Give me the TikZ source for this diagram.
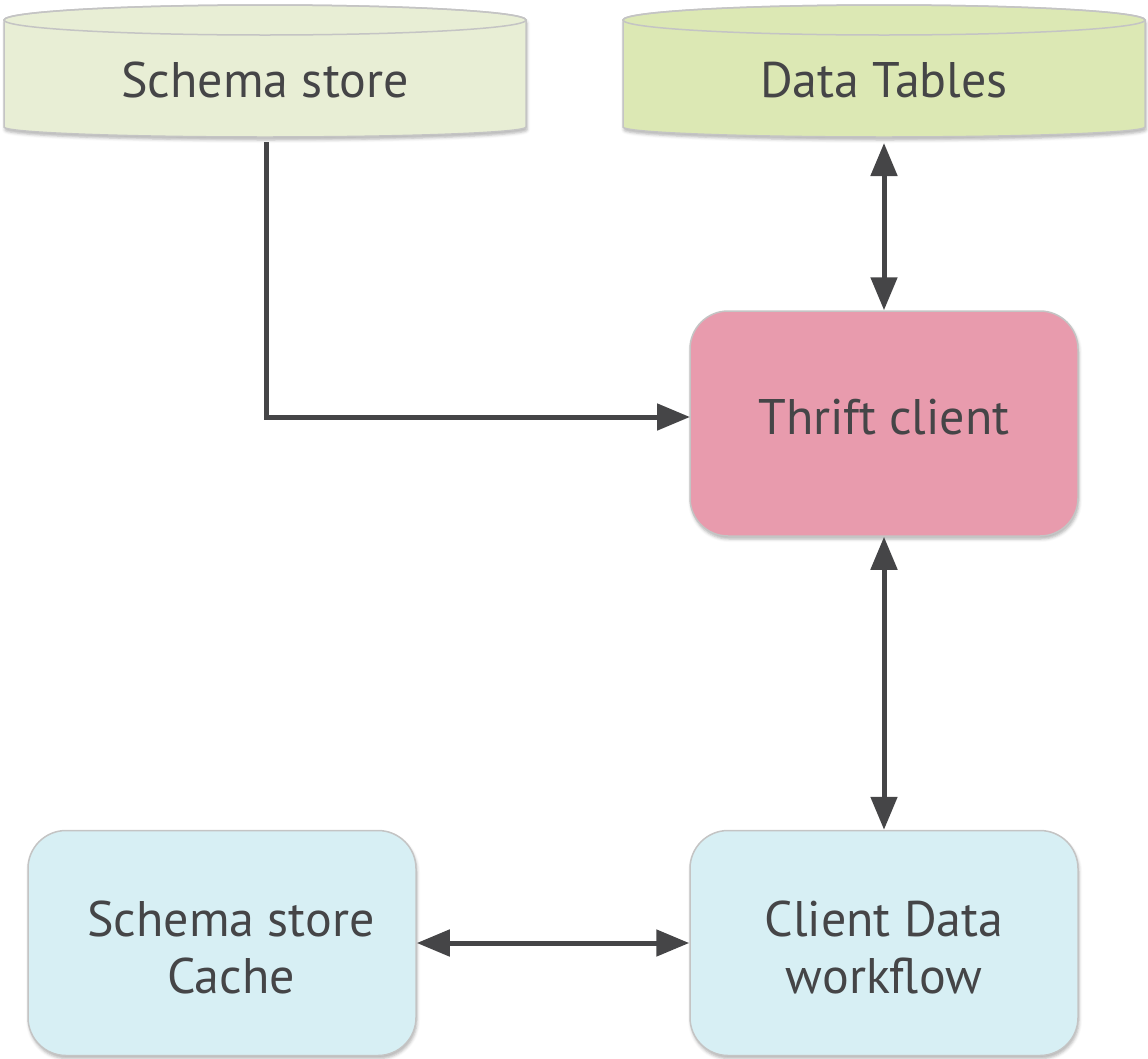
\documentclass[tikz,border=0pt]{standalone}
\usepackage{fontspec}
\setmainfont{PT Sans}
\usetikzlibrary{arrows.meta,shadows.blur}
\definecolor{txt}{HTML}{454547}
\definecolor{edge}{HTML}{C4C4C4}
\definecolor{dbA}{HTML}{E8EED5}
\definecolor{dbB}{HTML}{DCE8B4}
\definecolor{thr}{HTML}{E89BAD}
\definecolor{blu}{HTML}{D7EFF4}
\tikzset{
  lbl/.style={text=txt, font=\fontsize{50}{57}\selectfont, align=center, inner sep=0pt},
  box/.style={lbl, draw=edge, line width=1.5pt, rounded corners=38pt,
    minimum width=388pt, minimum height=225pt,
    blur shadow={shadow xshift=1pt, shadow yshift=-3pt, shadow blur radius=3pt, shadow opacity=30}},
  cyl/.style={draw=edge, line width=1.5pt,
    blur shadow={shadow xshift=1pt, shadow yshift=-3pt, shadow blur radius=3pt, shadow opacity=30}},
  conn/.style={draw=txt, line width=5pt, line cap=butt,
    {Triangle[length=33pt,width=26pt]}-{Triangle[length=33pt,width=26pt]}},
  conn1/.style={draw=txt, line width=5pt, -{Triangle[length=33pt,width=26pt]}}
}
\begin{document}
\begin{tikzpicture}[x=1pt,y=1pt]
\useasboundingbox (0,0) rectangle (1148,-1058);
% cylinders
\path[cyl, fill=dbA] (4,-20) -- (4,-127) arc[start angle=180, end angle=360, x radius=261, y radius=10]
  -- (526,-20) arc[start angle=0, end angle=180, x radius=261, y radius=15] -- cycle;
\draw[edge, line width=1.5pt] (265,-20) ellipse[x radius=261, y radius=15];
\path[cyl, fill=dbB] (623,-20) -- (623,-127) arc[start angle=180, end angle=360, x radius=261, y radius=10]
  -- (1145,-20) arc[start angle=0, end angle=180, x radius=261, y radius=15] -- cycle;
\draw[edge, line width=1.5pt] (884,-20) ellipse[x radius=261, y radius=15];
\node[lbl] (ss) at (265,-80) {Schema store};
\node[lbl] (dt) at (884,-80) {Data Tables};
\coordinate (ssb) at (266,-142);
\coordinate (dtb) at (884,-143);
% boxes
\node[box, fill=thr, text depth=13pt] (thrift) at (884,-423.5) {Thrift client};
\node[box, fill=blu, text height=102pt] (cache) at (222,-943) {\hspace*{18pt}Schema store\\\hspace*{18pt}Cache};
\node[box, fill=blu, text height=102pt] (cdw) at (884,-943) {Client Data\\workflow};
% connectors
\coordinate (tin) at (690,-417);
\draw[conn1] (ssb) |- (tin);
\draw[conn] (dtb) -- (thrift.north);
\draw[conn] (thrift.south) -- (cdw.north);
\draw[conn] (cache.east) -- (cdw.west);
\end{tikzpicture}
\end{document}
